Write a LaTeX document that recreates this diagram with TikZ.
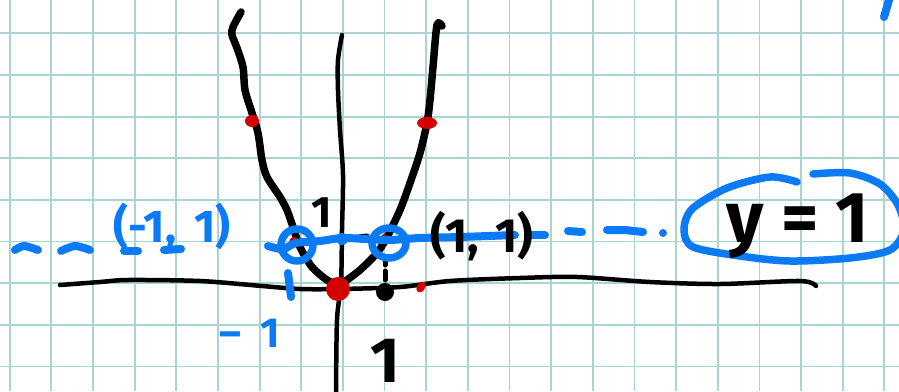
\documentclass[tikz,border=0pt]{standalone}
\usepackage{fontspec}
\setmainfont{Fira Sans}
\definecolor{gridc}{RGB}{170,212,212}
\definecolor{penblue}{RGB}{10,123,245}
\definecolor{penred}{RGB}{212,0,0}
\begin{document}
\begin{tikzpicture}[x=1pt,y=-1pt,
  ink/.style={line cap=round,line join=round},
  blk/.style={ink,black,line width=7.5pt},
  axis/.style={ink,black,line width=4.5pt},
  blu/.style={ink,penblue,line width=8pt},
  bluthin/.style={ink,penblue,line width=7.5pt},
  reddot/.style={fill=penred},
  btext/.style={anchor=base,inner sep=0pt,text=black},
  bluetext/.style={anchor=base,inner sep=0pt,text=penblue}]
\useasboundingbox (0,0) rectangle (899,391);
\fill[white] (0,0) rectangle (899,391);
% grid paper
\foreach \i in {0,...,21} {\draw[gridc,line width=1.8pt] ({9.7+41.65*\i},0) -- ({9.7+41.65*\i},391);}
\foreach \j in {0,...,8} {\draw[gridc,line width=1.8pt] (0,{33.3+41.65*\j}) -- (899,{33.3+41.65*\j});}
% axes
\draw[axis] plot[smooth] coordinates {(60,285) (100,282) (128,280) (200,281) (262,286) (300,289) (340,289) (400,287) (450,281) (520,278) (577,277) (650,282) (720,284) (800,281) (816,286)};
\draw[axis] plot[smooth] coordinates {(342,35) (338,60) (338,90) (340,130) (343,175) (342,230) (341,283) (337,320) (336,395)};
% parabola
\draw[blk] plot[smooth] coordinates {(241,12) (233,27) (232,35) (237,48) (243,67) (245,90) (252,113) (258,133) (262,160) (267,177) (280,197) (287,210) (293,227) (300,247) (312,267) (327,280) (340,286) (343,283) (360,270) (377,253) (387,237) (400,210) (410,183) (420,153) (427,123) (430,100) (433,67) (437,25) (442,26)};
% red points
\fill[reddot] (338,289) circle[radius=12];
\fill[reddot] (252,121) ellipse[x radius=7,y radius=6];
\fill[reddot] (427,123) ellipse[x radius=10,y radius=6];
\fill[reddot, rotate around={-30:(421,287)}] (421,287) ellipse[x radius=4,y radius=6];
\fill[reddot] (294,242) circle[radius=5];
\fill[reddot] (384,237) circle[radius=3];
% black point and dashed drop
\fill[black] (385,292) circle[radius=9];
\draw[ink,black,line width=5pt] (385,257) -- (385,265) (385,271) -- (385,280);
\draw[ink,black,line width=5pt] (351,238) -- (367,236);
% blue line y=1
\draw[blu] plot[smooth] coordinates {(268,246) (283,249) (296,243) (320,241) (342,238) (365,239) (389,240) (420,238) (460,237) (515,235)};
\draw[blu] (528,235) -- (545,235);
\draw[blu] (568,231) -- (582,232);
\draw[blu] (607,230) -- (625,230) -- (643,232);
\fill[penblue] (663,233) circle[radius=4];
\draw[blu] plot[smooth] coordinates {(15,250) (24,246) (38,250)};
\draw[blu] plot[smooth] coordinates {(61,251) (75,246) (90,250)};
\draw[blu] (124,251) -- (138,251);
\draw[blu] (164,250) -- (181,249);
\fill[penblue] (342,239) circle[radius=6];
\draw[bluthin] (297,245) circle[radius=16];
\draw[bluthin] (389,243) ellipse[x radius=17,y radius=15];
\draw[blu] (288,273) -- (291,297);
\draw[blu] (884,17) -- (889,0);
% ellipse around y = 1
\draw[bluthin] plot[smooth] coordinates {(813,174) (850,173) (880,184) (898,205) (904,230) (890,250) (850,258) (790,261) (740,256) (693,247) (684,230) (692,209) (727,188) (770,177) (797,182)};
% labels
\node[btext,font=\fontsize{44}{44}\selectfont\bfseries] (one) at (322,227) {1};
\node[btext,font=\fontsize{48}{48}\selectfont\bfseries] (pp) at (482,252) {(1,\hspace{0.35em}1)};
\node[bluetext,font=\fontsize{46}{46}\selectfont\bfseries] (pm) at (172,242) {(-1,\hspace{0.4em}1)};
\node[bluetext,font=\fontsize{42}{42}\selectfont\bfseries] (mone) at (250,347) {–\hspace{0.45em}1};
\node[btext,font=\fontsize{72}{72}\selectfont\bfseries] (yeq) at (798,242) {y = 1};
\node[btext,font=\fontsize{64}{64}\selectfont\bfseries] (xone) at (385,382) {1};
\end{tikzpicture}
\end{document}
